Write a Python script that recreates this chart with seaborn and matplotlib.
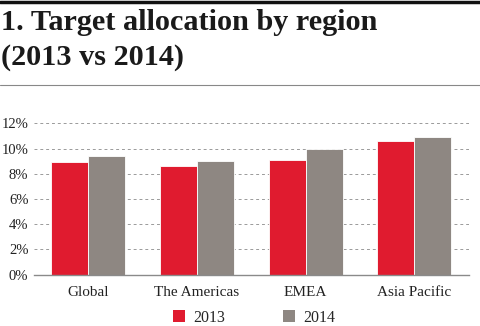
import matplotlib
matplotlib.use("Agg")
import matplotlib.pyplot as plt
import seaborn as sns
import pandas as pd
from matplotlib.lines import Line2D
from matplotlib.patches import Patch

regions = ["Global", "The Americas", "EMEA", "Asia Pacific"]
values_2013 = [8.9, 8.6, 9.1, 10.6]
values_2014 = [9.4, 9.0, 10.0, 10.9]
years = ["2013", "2014"]
yticks = [0, 2, 4, 6, 8, 10, 12]
ytick_labels = ["0%", "2%", "4%", "6%", "8%", "10%", "12%"]

df = pd.DataFrame({
    "region": regions * 2,
    "year": [years[0]] * 4 + [years[1]] * 4,
    "value": values_2013 + values_2014,
})

sns.set_theme(style="white")
plt.rcParams["font.family"] = ["Liberation Serif", "DejaVu Serif"]

RED = "#E01B2F"
GREY = "#8E8782"

fig = plt.figure(figsize=(4.8, 3.26), dpi=100)
ax = fig.add_axes([34 / 480, 1 - 274.7 / 326, (468.6 - 34) / 480, (274.7 - 123.3) / 326])

sns.barplot(data=df, x="region", y="value", hue="year", order=regions,
            hue_order=years, palette=[RED, GREY], width=0.68,
            edgecolor="white", linewidth=0.6, saturation=1, ax=ax, legend=False)

ax.set_ylim(0, 12)
ax.set_xlim(-0.5, 3.5)
ax.set_yticks(yticks)
ax.set_yticklabels(ytick_labels)
ax.set_xlabel("")
ax.set_ylabel("")
for s in ["top", "right", "left"]:
    ax.spines[s].set_visible(False)
ax.spines["bottom"].set_color("#8a8a8a")
ax.spines["bottom"].set_linewidth(1.0)
ax.yaxis.grid(True, color="#9a9a9a", linestyle=(0, (3, 3)), linewidth=0.7)
ax.set_axisbelow(True)
ax.tick_params(axis="y", length=0, pad=4, labelsize=10.5, colors="#222222")
ax.tick_params(axis="x", length=0, pad=8, labelsize=11, colors="#222222")
for lbl in ax.get_yticklabels():
    lbl.set_horizontalalignment("right")

# top rules
fig.add_artist(Line2D([0, 1], [1 - 1.5 / 326, 1 - 1.5 / 326], color="#111111", linewidth=2.5))
fig.add_artist(Line2D([0, 1], [1 - 85.5 / 326, 1 - 85.5 / 326], color="#888888", linewidth=0.8))

fig.text(1 / 480, 1 - 30 / 326, "1. Target allocation by region", fontsize=21.8,
         fontweight="bold", color="#1a1a1a", va="baseline", ha="left")
fig.text(1 / 480, 1 - 65 / 326, "(2013 vs 2014)", fontsize=21.8,
         fontweight="bold", color="#1a1a1a", va="baseline", ha="left")

handles = [Patch(facecolor=RED, edgecolor="none"), Patch(facecolor=GREY, edgecolor="none")]
fig.legend(handles, years, loc="center", bbox_to_anchor=(254 / 480, 1 - 317.5 / 326),
           ncol=2, frameon=False, fontsize=11.5, handlelength=0.8, handleheight=0.8,
           columnspacing=3.6, handletextpad=0.5, borderpad=0.1)

fig.savefig("out.png", dpi=100)
